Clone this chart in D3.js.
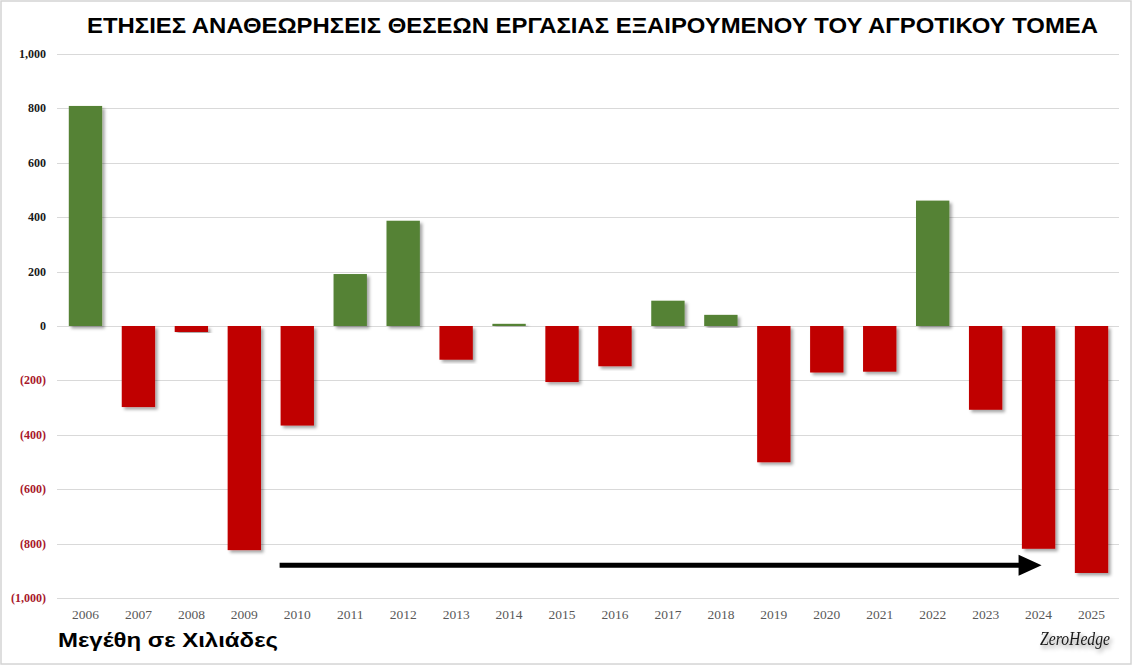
<!DOCTYPE html>
<html>
<head>
<meta charset="utf-8">
<script src="https://cdn.jsdelivr.net/npm/d3@7"></script>
<style>
  html, body { margin: 0; padding: 0; background: #fff; }
  svg { display: block; }
</style>
</head>
<body>
<svg id="chart" width="1132" height="665"></svg>
<script>
const title = "ΕΤΗΣΙΕΣ ΑΝΑΘΕΩΡΗΣΕΙΣ ΘΕΣΕΩΝ ΕΡΓΑΣΙΑΣ ΕΞΑΙΡΟΥΜΕΝΟΥ ΤΟΥ ΑΓΡΟΤΙΚΟΥ ΤΟΜΕΑ";
const unitsNote = "Μεγέθη σε Χιλιάδες";
const years = ["2006","2007","2008","2009","2010","2011","2012","2013","2014","2015",
               "2016","2017","2018","2019","2020","2021","2022","2023","2024","2025"];
const revisions = [809, -298, -22, -824, -366, 191, 387, -124, 8, -206,
                   -148, 93, 41, -501, -171, -168, 461, -308, -819, -908];
const yTicks = [1000, 800, 600, 400, 200, 0, -200, -400, -600, -800, -1000];
const arrowFrom = "2010", arrowTo = "2024", arrowLevel = -880;

const W = 1132, H = 665;
const svg = d3.select("#chart");

// drop shadow filters
const defs = svg.append("defs");
const f = defs.append("filter").attr("id", "shadow").attr("x", "-20%").attr("y", "-5%").attr("width", "150%").attr("height", "115%");
f.append("feDropShadow").attr("dx", 2.5).attr("dy", 2.5).attr("stdDeviation", 1.6)
  .attr("flood-color", "#000").attr("flood-opacity", 0.35);
const f2 = defs.append("filter").attr("id", "tshadow").attr("x", "-10%").attr("y", "-20%").attr("width", "130%").attr("height", "160%");
f2.append("feDropShadow").attr("dx", 2).attr("dy", 3).attr("stdDeviation", 2)
  .attr("flood-color", "#000").attr("flood-opacity", 0.45);

// border
svg.append("rect").attr("x", 1).attr("y", 1).attr("width", W - 2).attr("height", H - 2)
  .attr("fill", "#fff").attr("stroke", "#d4d4d4").attr("stroke-width", 1.5);

const x = d3.scaleBand().domain(years).range([59, 1118]).paddingInner(0.37).paddingOuter(0.185);
const y = d3.scaleLinear().domain([-1000, 1000]).range([598, 54]);

// gridlines
svg.append("g").selectAll("line").data(yTicks).join("line")
  .attr("x1", 57).attr("x2", 1119)
  .attr("y1", d => Math.round(y(d)) + 0.5).attr("y2", d => Math.round(y(d)) + 0.5)
  .attr("stroke", "#d9d9d9").attr("stroke-width", 1);

// y axis labels
const fmt = d3.format(",");
svg.append("g").selectAll("text").data(yTicks).join("text")
  .attr("x", 46).attr("y", d => y(d) + 4)
  .attr("text-anchor", "end")
  .attr("font-family", "'Liberation Serif', 'DejaVu Serif', serif")
  .attr("font-weight", "bold").attr("font-size", 12)
  .attr("fill", d => d < 0 ? "#a8182c" : "#1a1a1a")
  .text(d => d < 0 ? "(" + fmt(-d) + ")" : fmt(d));

// bars
svg.append("g").selectAll("rect").data(years).join("rect")
  .attr("x", (d) => x(d))
  .attr("width", x.bandwidth())
  .attr("y", (d, i) => y(Math.max(0, revisions[i])))
  .attr("height", (d, i) => Math.abs(y(revisions[i]) - y(0)))
  .attr("fill", (d, i) => revisions[i] >= 0 ? "#548235" : "#c00000")
  .attr("filter", "url(#shadow)");

// x axis labels
svg.append("g").selectAll("text").data(years).join("text")
  .attr("x", d => x(d) + x.bandwidth() / 2).attr("y", 619)
  .attr("text-anchor", "middle")
  .attr("font-family", "'Liberation Serif', 'DejaVu Serif', serif")
  .attr("font-size", 13.5).attr("fill", "#595959")
  .text(d => d);

// arrow annotation
const ay = y(arrowLevel);
const ax1 = x(arrowFrom) - 1;
const ax2 = x(arrowTo) + x.bandwidth() / 2 + 3;
svg.append("line").attr("x1", ax1).attr("x2", ax2 - 20).attr("y1", ay).attr("y2", ay)
  .attr("stroke", "#000").attr("stroke-width", 5);
svg.append("path")
  .attr("d", `M${ax2 - 23},${ay - 10.5} L${ax2},${ay} L${ax2 - 23},${ay + 10.5} Z`)
  .attr("fill", "#000");

// title
svg.append("text").attr("x", 87).attr("y", 33)
  .attr("font-family", "'Liberation Sans', Arial, sans-serif")
  .attr("font-weight", "bold").attr("font-size", 22)
  .attr("textLength", 1011).attr("lengthAdjust", "spacingAndGlyphs")
  .attr("fill", "#000").text(title);

// units note
svg.append("text").attr("x", 58).attr("y", 647)
  .attr("font-family", "'Liberation Sans', Arial, sans-serif")
  .attr("font-weight", "bold").attr("font-size", 21)
  .attr("textLength", 220).attr("lengthAdjust", "spacingAndGlyphs")
  .attr("fill", "#000").text(unitsNote);

// ZeroHedge mark
svg.append("text").attr("x", 1040).attr("y", 645)
  .attr("font-family", "'Liberation Serif', 'DejaVu Serif', serif")
  .attr("font-style", "italic").attr("font-size", 18)
  .attr("textLength", 70).attr("lengthAdjust", "spacingAndGlyphs")
  .attr("fill", "#1a1a1a").attr("filter", "url(#tshadow)")
  .text("ZeroHedge");
</script>
</body>
</html>
